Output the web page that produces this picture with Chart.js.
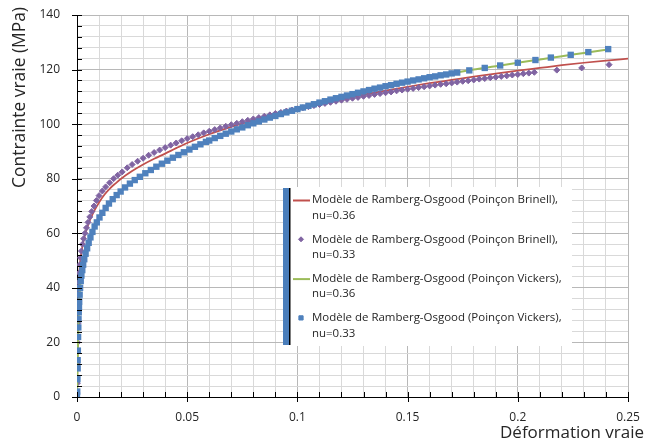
<!DOCTYPE html>
<html>
<head>
<meta charset="utf-8">
<script src="https://cdn.jsdelivr.net/npm/chart.js@4.4.1/dist/chart.umd.min.js"></script>
<style>
  body { margin: 0; background: #fff; }
  canvas { display: block; }
</style>
</head>
<body>
<canvas id="chart" width="645" height="443"></canvas>
<script>
// axis ticks
const xMajorTicks = [0, 0.05, 0.1, 0.15, 0.2, 0.25];
const yMajorTicks = [0, 20, 40, 60, 80, 100, 120, 140];
const xMinorStep = 0.01;
const yMinorStep = 4;

const xTitle = 'Déformation vraie';
const yTitle = 'Contrainte vraie (MPa)';

const seriesLabels = [
  'Modèle de Ramberg-Osgood (Poinçon Brinell), nu=0.36',
  'Modèle de Ramberg-Osgood (Poinçon Brinell), nu=0.33',
  'Modèle de Ramberg-Osgood (Poinçon Vickers), nu=0.36',
  'Modèle de Ramberg-Osgood (Poinçon Vickers), nu=0.33'
];

// [strain, stress MPa]
const brinell036 = [
  [0, 0], [0.0003, 20], [0.0006, 35], [0.001, 45], [0.0015, 50], [0.002, 53],
  [0.003, 57.5], [0.004, 60.5], [0.005, 63], [0.0065, 66], [0.008, 68.5],
  [0.01, 71.3], [0.0125, 74.2], [0.015, 76.5], [0.0175, 78.3], [0.02, 80],
  [0.025, 82.8], [0.03, 85.2], [0.035, 87.3], [0.04, 89.2], [0.045, 91.2],
  [0.05, 93.1], [0.06, 96.3], [0.07, 99], [0.08, 101.4], [0.09, 103.6],
  [0.1, 105.6], [0.11, 107.5], [0.12, 109.2], [0.13, 110.8], [0.14, 112.3],
  [0.15, 113.7], [0.16, 115.0], [0.17, 116.2], [0.18, 117.4], [0.19, 118.5],
  [0.2, 119.6], [0.21, 120.6], [0.22, 121.6], [0.23, 122.5], [0.24, 123.3],
  [0.25, 124.0]
];

const brinell033 = [
  [0.0001, 5], [0.0002, 12], [0.0003, 20], [0.0004, 27], [0.0005, 33],
  [0.0006, 38], [0.0008, 42], [0.001, 45.5], [0.0013, 48.5], [0.0016, 51],
  [0.002, 53.5], [0.0025, 56], [0.003, 58], [0.0036, 60], [0.0043, 62],
  [0.005, 64], [0.0058, 66], [0.0067, 68], [0.0077, 70], [0.0088, 72],
  [0.01, 73.8], [0.0115, 75.5], [0.013, 77], [0.0148, 78.5], [0.0166, 80],
  [0.0185, 81.3], [0.0205, 82.5], [0.0228, 84], [0.025, 85.2], [0.0275, 86.4],
  [0.03, 87.5], [0.0325, 88.6], [0.035, 89.6], [0.0375, 90.5], [0.04, 91.4],
  [0.0425, 92.3], [0.045, 93.1], [0.0475, 93.9], [0.05, 94.7], [0.0525, 95.4],
  [0.055, 96.1], [0.0575, 96.8], [0.06, 97.4], [0.0625, 98.0], [0.065, 98.6],
  [0.0675, 99.2], [0.07, 99.8], [0.0725, 100.3], [0.075, 100.9], [0.0775, 101.4],
  [0.08, 101.9], [0.0825, 102.4], [0.085, 102.9], [0.0875, 103.4], [0.09, 103.9],
  [0.0925, 104.3], [0.095, 104.8], [0.0975, 105.2], [0.1, 105.6], [0.1025, 106.0],
  [0.105, 106.4], [0.1075, 106.8], [0.11, 107.2], [0.1125, 107.6], [0.115, 108.0],
  [0.1175, 108.4], [0.12, 108.8], [0.1225, 109.1], [0.125, 109.5], [0.1275, 109.8],
  [0.13, 110.2], [0.1325, 110.5], [0.135, 110.9], [0.1375, 111.2], [0.14, 111.5],
  [0.1425, 111.8], [0.145, 112.2], [0.1475, 112.5], [0.15, 112.8], [0.1525, 113.1],
  [0.155, 113.4], [0.1575, 113.7], [0.16, 114.0], [0.1625, 114.3], [0.165, 114.6],
  [0.1675, 114.8], [0.17, 115.1], [0.1725, 115.4], [0.175, 115.7], [0.1775, 115.9],
  [0.18, 116.2], [0.1825, 116.5], [0.185, 116.7], [0.1875, 117.0], [0.19, 117.2],
  [0.1925, 117.5], [0.195, 117.7], [0.1975, 118.0], [0.2, 118.2], [0.2025, 118.5],
  [0.205, 118.7], [0.2075, 119.0], [0.2177, 119.8], [0.229, 120.6], [0.2414, 121.8]
];

const vickers036 = [
  [0, 0], [0.0005, 22], [0.001, 35], [0.0015, 41], [0.002, 44.5], [0.003, 49.5],
  [0.004, 53], [0.005, 55.5], [0.007, 60.5], [0.009, 64], [0.012, 68],
  [0.015, 71.3], [0.02, 75.4], [0.025, 78.8], [0.03, 81.5], [0.035, 83.9],
  [0.04, 86.2], [0.05, 90.3], [0.06, 94.0], [0.07, 97.3], [0.08, 100.3],
  [0.09, 103.0], [0.1, 105.5], [0.11, 107.9], [0.12, 110.0], [0.13, 112.0],
  [0.14, 113.9], [0.15, 115.6], [0.16, 117.2], [0.17, 118.6], [0.18, 120.0],
  [0.19, 121.2], [0.2, 122.5], [0.21, 123.7], [0.22, 124.9], [0.23, 126.1],
  [0.24, 127.3]
];

const vickers033 = [
  [0, 0.5], [0.0001, 2], [0.0002, 6.5], [0.0003, 10.5], [0.0003, 13.5],
  [0.0004, 17], [0.0005, 22], [0.0006, 25.5], [0.0007, 28.5], [0.0008, 31],
  [0.0009, 33], [0.001, 35], [0.0012, 37.5], [0.0014, 40], [0.0017, 42.5],
  [0.002, 44.5], [0.0024, 46.5], [0.0028, 48.5], [0.0033, 50.5], [0.0039, 52.5],
  [0.0046, 54.5], [0.0053, 56.5], [0.0061, 58.5], [0.007, 60.5], [0.008, 62.5],
  [0.009, 64.0], [0.0102, 65.8], [0.0115, 67.5], [0.013, 69.3], [0.0145, 70.9],
  [0.0162, 72.5], [0.018, 74.0], [0.0198, 75.3], [0.0218, 76.8], [0.024, 78.2],
  [0.0262, 79.5], [0.0285, 80.7], [0.031, 82.0], [0.0335, 83.2], [0.036, 84.4],
  [0.0385, 85.5], [0.041, 86.6], [0.0435, 87.7], [0.046, 88.7], [0.0485, 89.7],
  [0.051, 90.7], [0.0535, 91.7], [0.056, 92.6], [0.0585, 93.5], [0.06, 94.0],
  [0.0625, 94.9], [0.065, 95.7], [0.0675, 96.5], [0.07, 97.3], [0.0725, 98.1],
  [0.075, 98.8], [0.0775, 99.6], [0.08, 100.3], [0.0825, 101.0], [0.085, 101.7],
  [0.0875, 102.4], [0.09, 103.0], [0.0925, 103.7], [0.095, 104.3], [0.0975, 104.9],
  [0.1, 105.5], [0.1025, 106.1], [0.105, 106.7], [0.1075, 107.3], [0.11, 107.9],
  [0.1125, 108.4], [0.115, 109.0], [0.1175, 109.5], [0.12, 110.0], [0.1225, 110.5],
  [0.125, 111.0], [0.1275, 111.5], [0.13, 112.0], [0.1325, 112.5], [0.135, 113.0],
  [0.1375, 113.4], [0.14, 113.9], [0.1425, 114.3], [0.145, 114.8], [0.1475, 115.2],
  [0.15, 115.6], [0.1525, 116.0], [0.155, 116.4], [0.1575, 116.8], [0.16, 117.2],
  [0.1625, 117.5], [0.165, 117.9], [0.1675, 118.2], [0.17, 118.6], [0.1725, 118.9],
  [0.178, 119.7], [0.185, 120.6], [0.192, 121.5], [0.2, 122.5], [0.208, 123.5],
  [0.215, 124.4], [0.224, 125.4], [0.232, 126.4], [0.241, 127.5]
];

const RED = '#c0504d', PURPLE = '#8064a2', GREEN = '#9bbb59', BLUE = '#4f81bd';
const FONT = '"Open Sans", sans-serif';
const TEXT = '#262626';

const toPoints = arr => arr.map(p => ({ x: p[0], y: p[1] }));
const isMajor = (v, step) => Math.abs(v / step - Math.round(v / step)) < 1e-6;

function fitFont(ctx, text, width) {
  ctx.font = '100px ' + FONT;
  const size = 100 * width / ctx.measureText(text).width;
  return size.toFixed(2) + 'px ' + FONT;
}

// tick marks, custom legend and axis titles like the Excel original
const excelBits = {
  id: 'excelBits',
  afterDatasetsDraw(chart) {
    const { ctx, chartArea: a, scales: { x, y } } = chart;
    ctx.save();
    ctx.strokeStyle = '#000';
    ctx.lineWidth = 1;
    x.ticks.forEach(t => {
      const px = Math.round(x.getPixelForValue(t.value)) + 0.5;
      const major = isMajor(t.value, 0.05);
      ctx.beginPath();
      ctx.moveTo(px, a.bottom - 5);
      ctx.lineTo(px, a.bottom + (major ? 5 : 0));
      ctx.stroke();
    });
    y.ticks.forEach(t => {
      const py = Math.round(y.getPixelForValue(t.value)) + 0.5;
      const major = isMajor(t.value, 20);
      ctx.beginPath();
      ctx.moveTo(a.left - (major ? 5 : 0), py);
      ctx.lineTo(a.left + 5, py);
      ctx.stroke();
    });

    // legend box
    const box = { l: 283, t: 187, r: 572, b: 346 };
    ctx.fillStyle = '#fff';
    ctx.fillRect(box.l, box.t, box.r - box.l, box.b - box.t);
    ctx.fillStyle = '#4a7ebb';
    ctx.fillRect(box.l, box.t + 1, 6, box.b - box.t - 2);
    ctx.fillStyle = '#000';
    ctx.fillRect(box.l + 6, box.t + 1, 1.5, box.b - box.t - 2);

    const legendFont = fitFont(ctx, 'Modèle de Ramberg-Osgood (Poinçon Brinell),', 246);
    chart.data.datasets.forEach((ds, i) => {
      const cy = 200 + i * 39.3;
      const parts = ds.label.split(', ');
      if (ds.showLine) {
        ctx.strokeStyle = ds.borderColor;
        ctx.lineWidth = 2;
        ctx.beginPath();
        ctx.moveTo(293, cy + 0.5);
        ctx.lineTo(310, cy + 0.5);
        ctx.stroke();
      } else {
        ctx.fillStyle = ds.backgroundColor;
        ctx.strokeStyle = ds.borderColor;
        ctx.lineWidth = 1;
        Chart.helpers.drawPoint(ctx, { pointStyle: ds.pointStyle, radius: ds.pointStyle === 'rect' ? 3 : 2.5, borderWidth: 1 }, 301, cy);
      }
      ctx.fillStyle = TEXT;
      ctx.font = legendFont;
      ctx.textAlign = 'left';
      ctx.textBaseline = 'middle';
      ctx.fillText(parts[0] + ',', 312, cy);
      ctx.fillText(parts[1], 312, cy + 15.5);
    });

    // axis titles
    ctx.fillStyle = TEXT;
    ctx.font = fitFont(ctx, xTitle, 144);
    ctx.textAlign = 'right';
    ctx.textBaseline = 'middle';
    ctx.fillText(xTitle, 644, 433);

    ctx.font = fitFont(ctx, yTitle, 181);
    ctx.translate(20.5, 7);
    ctx.rotate(-Math.PI / 2);
    ctx.textAlign = 'right';
    ctx.fillText(yTitle, 0, 0);
    ctx.restore();
  }
};

function minorTicks(max, step) {
  const ticks = [];
  for (let i = 0; i * step <= max + 1e-9; i++) ticks.push({ value: +(i * step).toFixed(4) });
  return ticks;
}

const ctx = document.getElementById('chart').getContext('2d');
new Chart(ctx, {
  type: 'scatter',
  data: {
    datasets: [
      {
        label: seriesLabels[0], data: toPoints(brinell036), showLine: true,
        borderColor: RED, backgroundColor: RED, borderWidth: 1.75,
        pointRadius: 0, cubicInterpolationMode: 'monotone', order: 4
      },
      {
        label: seriesLabels[1], data: toPoints(brinell033), showLine: false,
        pointStyle: 'rectRot', pointRadius: 3, borderWidth: 1,
        borderColor: PURPLE, backgroundColor: PURPLE, order: 3
      },
      {
        label: seriesLabels[2], data: toPoints(vickers036), showLine: true,
        borderColor: GREEN, backgroundColor: GREEN, borderWidth: 2,
        pointRadius: 0, cubicInterpolationMode: 'monotone', order: 2
      },
      {
        label: seriesLabels[3], data: toPoints(vickers033), showLine: false,
        pointStyle: 'rect', pointRadius: 4.5, borderWidth: 0,
        borderColor: BLUE, backgroundColor: BLUE, order: 1
      }
    ]
  },
  options: {
    responsive: false,
    animation: false,
    layout: { padding: { top: 15, right: 17, left: 0, bottom: 0 } },
    plugins: { legend: { display: false }, tooltip: { enabled: false } },
    scales: {
      x: {
        type: 'linear', min: 0, max: 0.25,
        afterBuildTicks: s => { s.ticks = minorTicks(0.25, xMinorStep); },
        afterFit: s => { s.height = 46; s.paddingLeft = 0; s.paddingRight = 0; },
        ticks: {
          autoSkip: false, maxRotation: 0, padding: 13, color: TEXT,
          font: { family: FONT, size: 12 },
          callback: v => xMajorTicks.some(m => Math.abs(m - v) < 1e-6) ? String(+v.toFixed(2)) : ''
        },
        grid: {
          drawTicks: false,
          color: c => isMajor(c.tick.value, 0.05) ? '#b8b8b8' : '#d9d9d9',
          lineWidth: 1
        },
        border: { color: '#000', width: 1 }
      },
      y: {
        type: 'linear', min: 0, max: 140,
        afterBuildTicks: s => { s.ticks = minorTicks(140, yMinorStep); },
        afterFit: s => { s.width = 77; s.paddingTop = 0; s.paddingBottom = 0; },
        ticks: {
          autoSkip: false, padding: 17, color: TEXT,
          font: { family: FONT, size: 12 },
          callback: v => yMajorTicks.includes(v) ? String(v) : ''
        },
        grid: {
          drawTicks: false,
          color: c => isMajor(c.tick.value, 20) ? '#b8b8b8' : '#d9d9d9',
          lineWidth: 1
        },
        border: { color: '#000', width: 1 }
      }
    }
  },
  plugins: [excelBits]
});
</script>
</body>
</html>
